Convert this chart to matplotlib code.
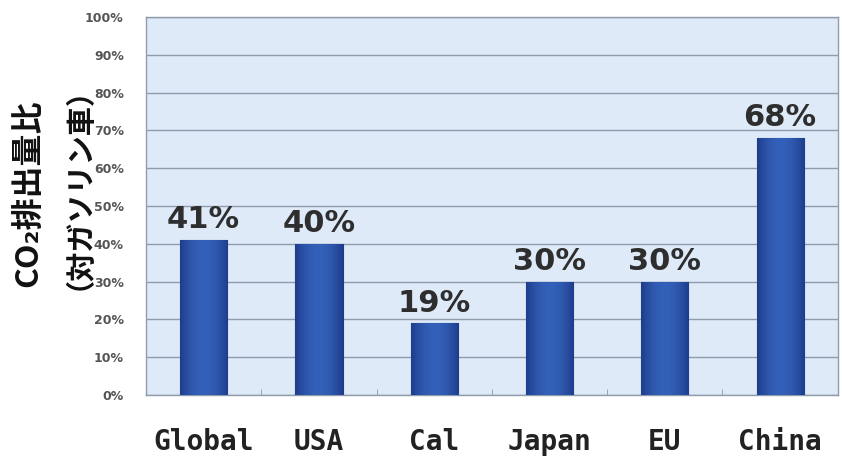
import numpy as np
import matplotlib
matplotlib.use("Agg")
import matplotlib.pyplot as plt
from matplotlib.ticker import FixedLocator, PercentFormatter

# Data
regions = ["Global", "USA", "Cal", "Japan", "EU", "China"]
ratios = [41, 40, 19, 30, 30, 68]
yticks = list(range(0, 101, 10))

fig = plt.figure(figsize=(8.42, 4.59), dpi=100)
ax = fig.add_axes([0.1734, 0.1394, 0.8216, 0.8236])
ax.set_facecolor("#deeaf8")

x = np.arange(len(regions))
bar_width = 0.41
bars = ax.bar(x, ratios, width=bar_width, color="#2b52a6",
              edgecolor="#1d3a80", linewidth=0.8, zorder=3)

# horizontal shading inside each bar: darker at the edges, lighter in the middle
shade = np.abs(np.linspace(-1, 1, 64)) ** 2
grad = np.tile(shade, (2, 1))
cmap = matplotlib.colors.LinearSegmentedColormap.from_list(
    "bar", ["#3360b8", "#1e3d8c"])
for rect in bars:
    x0, w, h = rect.get_x(), rect.get_width(), rect.get_height()
    im = ax.imshow(grad, cmap=cmap, aspect="auto", extent=[x0, x0 + w, 0, h],
                   zorder=3.5, interpolation="bicubic")
    im.set_clip_path(rect)

for xi, v in zip(x, ratios):
    ax.text(xi, v + 1.5, f"{v}%", ha="center", va="bottom", fontsize=22,
            fontweight="bold", family="DejaVu Sans", color="#2e2e2e",
            zorder=5)

ax.set_xlim(-0.5, len(regions) - 0.5)
ax.set_ylim(0, 100)
ax.yaxis.set_major_locator(FixedLocator(yticks))
ax.yaxis.set_major_formatter(PercentFormatter(decimals=0))
ax.grid(axis="y", color="#8f9cac", linewidth=1.0, zorder=1)
ax.set_axisbelow(True)

ax.set_xticks(x)
ax.set_xticklabels(regions, fontsize=20, fontweight="bold",
                   family="DejaVu Sans Mono", color="#222222")
ax.set_xticks(np.arange(0.5, len(regions) - 1, 1), minor=True)
ax.tick_params(axis="x", which="major", length=0, pad=24)
ax.tick_params(axis="x", which="minor", direction="in", length=4,
               color="#8f9cac")
ax.tick_params(axis="y", length=0, pad=16, labelsize=9, labelcolor="#555555")
for lab in ax.get_yticklabels():
    lab.set_fontweight("bold")

for side in ["left", "right", "top", "bottom"]:
    ax.spines[side].set_color("#8f9cac")
    ax.spines[side].set_linewidth(1.0)

# two-line axis title
jp = ["Noto Sans CJK JP", "DejaVu Sans"]
fig.text(0.034, 0.58, "CO₂排出量比", rotation=90, ha="center", va="center",
         fontsize=23, fontweight="bold", family=jp, color="#111111")
fig.text(0.076, 0.622, "（対ガソリン車）", rotation=90, ha="center",
         va="center", fontsize=21, fontweight="bold", family=jp,
         color="#111111")

fig.savefig("out.png", dpi=100)
